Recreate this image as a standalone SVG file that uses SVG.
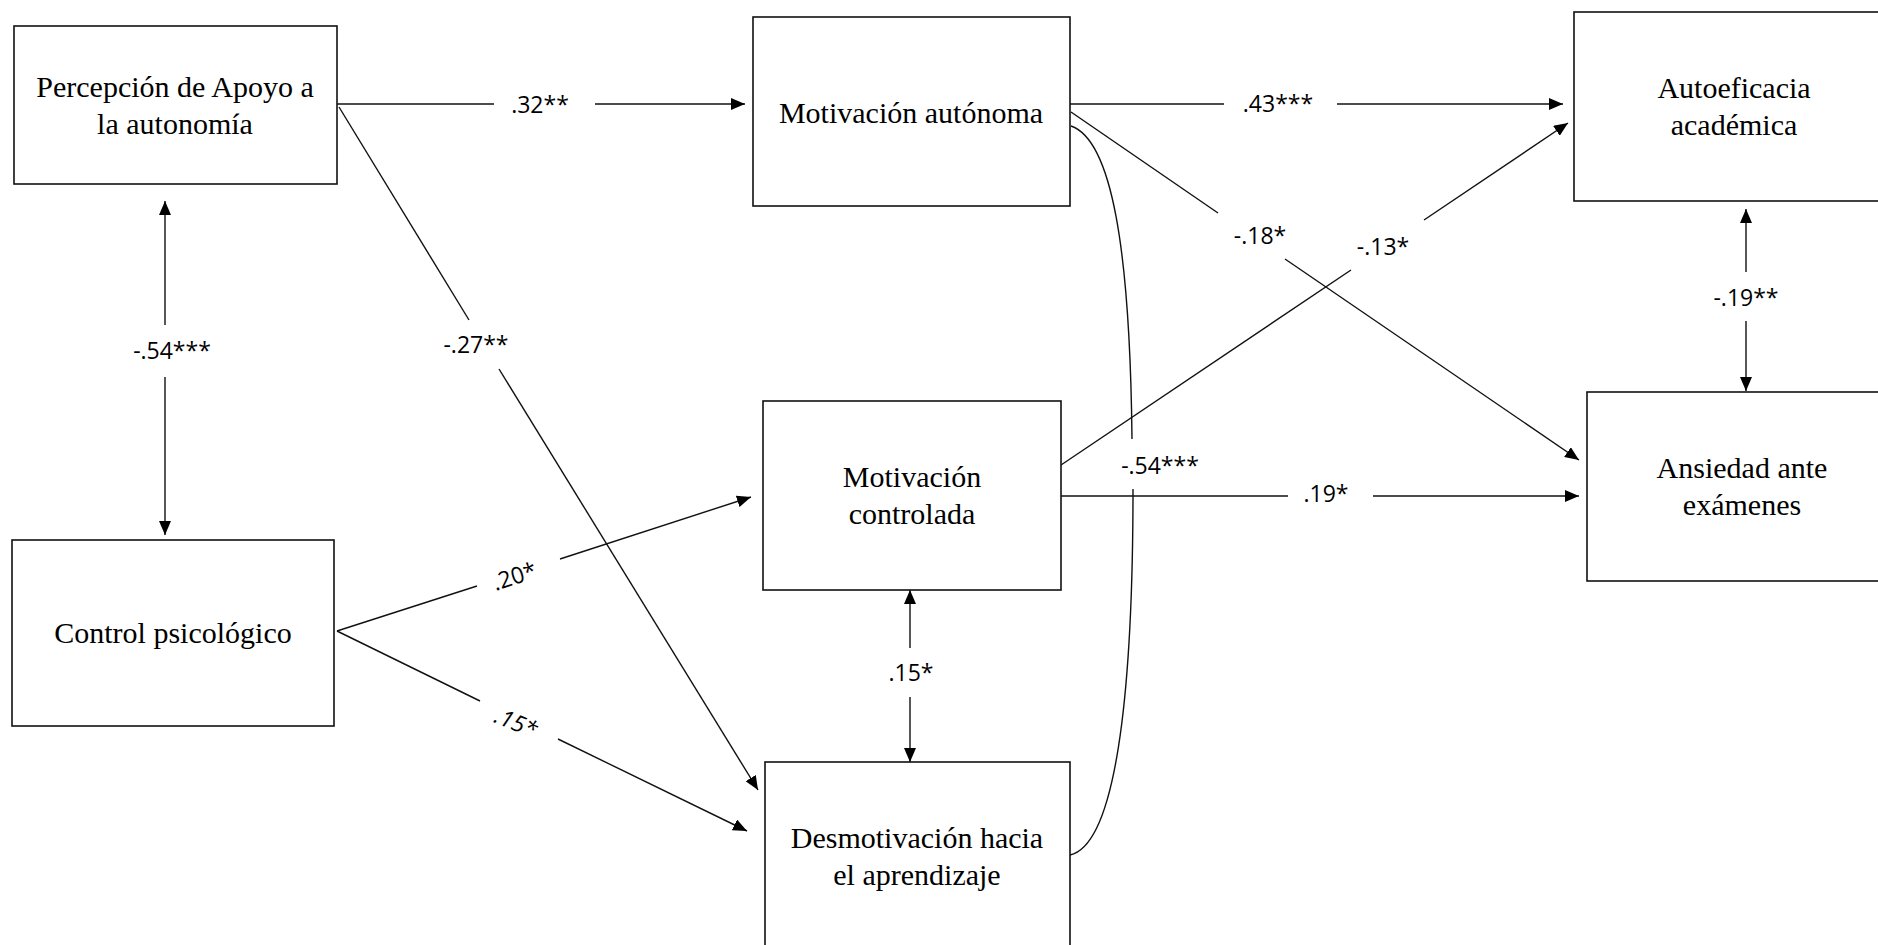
<svg xmlns="http://www.w3.org/2000/svg" width="1878" height="945" viewBox="0 0 1878 945">
<style>
.box{fill:#fff;stroke:#111;stroke-width:1.6}
.nt{font-family:"Liberation Serif","Times New Roman",serif;font-size:30px;fill:#000;text-anchor:middle}
.ln{fill:none;stroke:#111;stroke-width:1.4}
.lb{font-family:"Open Sans","Liberation Sans",sans-serif;font-size:23px;fill:#000;text-anchor:middle}
</style>
<defs>
<marker id="ah" markerWidth="14" markerHeight="12" refX="14" refY="6" orient="auto-start-reverse" markerUnits="userSpaceOnUse"><path d="M0,0 L14,6 L0,12 z" fill="#000"/></marker>
</defs>
<rect width="1878" height="945" fill="#fff"/>

<g id="connectors">
<path class="ln" d="M337,104 H494"/>
<path class="ln" d="M595,104 H745" marker-end="url(#ah)"/>
<text class="lb" x="540" y="113">.32**</text>

<path class="ln" d="M339,107 L469,320"/>
<path class="ln" d="M499,369 L758,790" marker-end="url(#ah)"/>
<text class="lb" x="476" y="353">-.27**</text>

<path class="ln" d="M165,325 V201" marker-end="url(#ah)"/>
<path class="ln" d="M165,377 V535" marker-end="url(#ah)"/>
<text class="lb" x="172" y="359">-.54***</text>

<path class="ln" d="M337,631 L477,586"/>
<path class="ln" d="M560,559 L751,497" marker-end="url(#ah)"/>
<text class="lb" transform="translate(517,584) rotate(-18)" x="0" y="0">.20*</text>

<path class="ln" d="M337,631 L480,701"/>
<path class="ln" d="M558,739 L747,831" marker-end="url(#ah)"/>
<text class="lb" transform="translate(513,730) rotate(22)" x="0" y="0" font-style="italic">.15*</text>

<path class="ln" d="M910,648 V590" marker-end="url(#ah)"/>
<path class="ln" d="M910,697 V762" marker-end="url(#ah)"/>
<text class="lb" x="911" y="681">.15*</text>

<path class="ln" d="M1070,104 H1224"/>
<path class="ln" d="M1337,104 H1563" marker-end="url(#ah)"/>
<text class="lb" x="1278" y="112">.43***</text>

<path class="ln" d="M1071,112 L1218,213"/>
<path class="ln" d="M1285,259 L1579,460" marker-end="url(#ah)"/>
<text class="lb" x="1260" y="244">-.18*</text>

<path class="ln" d="M1061,465 L1351,270"/>
<path class="ln" d="M1424,220 L1568,123" marker-end="url(#ah)"/>
<text class="lb" x="1383" y="255">-.13*</text>

<path class="ln" d="M1061,496 H1288"/>
<path class="ln" d="M1373,496 H1579" marker-end="url(#ah)"/>
<text class="lb" x="1326" y="502">.19*</text>

<path class="ln" d="M1746,272 V209" marker-end="url(#ah)"/>
<path class="ln" d="M1746,321 V391" marker-end="url(#ah)"/>
<text class="lb" x="1746" y="306">-.19**</text>

<path class="ln" d="M1071,126 C1112,140 1130,250 1132,439"/>
<path class="ln" d="M1133,489 C1133,700 1115,845 1070,855"/>
<text class="lb" x="1160" y="474">-.54***</text>
</g>

<g id="n-percepcion">
<rect class="box" x="14" y="26" width="323" height="158"/>
<text class="nt" x="175" y="97">Percepción de Apoyo a</text>
<text class="nt" x="175" y="134">la autonomía</text>
</g>
<g id="n-control">
<rect class="box" x="12" y="540" width="322" height="186"/>
<text class="nt" x="173" y="643">Control psicológico</text>
</g>
<g id="n-mot-autonoma">
<rect class="box" x="753" y="17" width="317" height="189"/>
<text class="nt" x="911" y="123">Motivación autónoma</text>
</g>
<g id="n-mot-controlada">
<rect class="box" x="763" y="401" width="298" height="189"/>
<text class="nt" x="912" y="487">Motivación</text>
<text class="nt" x="912" y="524">controlada</text>
</g>
<g id="n-desmotivacion">
<rect class="box" x="765" y="762" width="305" height="200"/>
<text class="nt" x="917" y="848">Desmotivación hacia</text>
<text class="nt" x="917" y="885">el aprendizaje</text>
</g>
<g id="n-autoeficacia">
<rect class="box" x="1574" y="12" width="330" height="189"/>
<text class="nt" x="1734" y="98">Autoeficacia</text>
<text class="nt" x="1734" y="135">académica</text>
</g>
<g id="n-ansiedad">
<rect class="box" x="1587" y="392" width="320" height="189"/>
<text class="nt" x="1742" y="478">Ansiedad ante</text>
<text class="nt" x="1742" y="515">exámenes</text>
</g>
</svg>
